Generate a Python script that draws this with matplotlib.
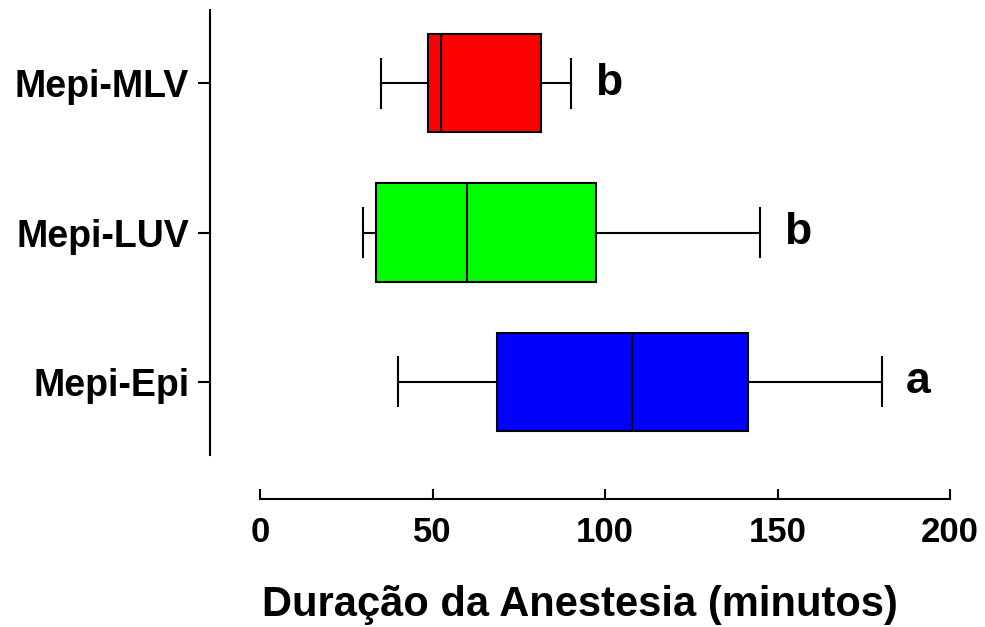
import matplotlib.pyplot as plt

plt.rcParams['font.family'] = ['Liberation Sans', 'DejaVu Sans']
plt.rcParams['font.weight'] = 'bold'

groups = ['Mepi-Epi', 'Mepi-LUV', 'Mepi-MLV']
whisker_low = [40, 29.8, 35]
q1 = [68.6, 33.6, 48.6]
median = [107.7, 59.9, 52.4]
q3 = [141.5, 97.5, 81.3]
whisker_high = [180.3, 145, 90]
letters = ['a', 'b', 'b']
colors = ['#0000ff', '#00ff00', '#ff0000']

stats = []
for i, g in enumerate(groups):
    stats.append({'label': g, 'whislo': whisker_low[i], 'q1': q1[i], 'med': median[i],
                  'q3': q3[i], 'whishi': whisker_high[i]})

fig = plt.figure(figsize=(9.85, 6.27), dpi=100)
ax = fig.add_axes([0.2132, 0.2743, 0.9645 - 0.2132, 0.984 - 0.2743])

lw = 1.5
bp = ax.bxp(stats, positions=range(len(groups)), vert=False, widths=0.66,
            patch_artist=True, showfliers=False,
            boxprops=dict(linewidth=lw, edgecolor='black'),
            medianprops=dict(color='black', linewidth=lw),
            whiskerprops=dict(color='black', linewidth=lw),
            capprops=dict(color='black', linewidth=lw), capwidths=0.33)
for patch, c in zip(bp['boxes'], colors):
    patch.set_facecolor(c)

for i, l in enumerate(letters):
    ax.text(whisker_high[i] + 7, i, l, fontsize=32, fontweight='bold',
            ha='left', va='center')

ax.set_xlim(-14.5, 200)
ax.set_ylim(-0.49, 2.49)
ax.set_yticks(range(len(groups)))
ax.set_yticklabels(groups, fontsize=27)
ax.set_xticks([0, 50, 100, 150, 200])
ax.tick_params(axis='x', direction='in', length=7, width=1.5, labelsize=25, pad=12)
ax.tick_params(axis='y', direction='out', length=9, width=1.5, pad=6)

ax.spines['top'].set_visible(False)
ax.spines['right'].set_visible(False)
ax.spines['left'].set_linewidth(1.5)
ax.spines['bottom'].set_linewidth(1.5)
ax.spines['bottom'].set_position(('outward', 32))
ax.spines['bottom'].set_bounds(0, 200)

ax.set_xlabel('Duração da Anestesia (minutos)', fontsize=30, fontweight='bold', labelpad=26)

fig.savefig('out.png', dpi=100)
